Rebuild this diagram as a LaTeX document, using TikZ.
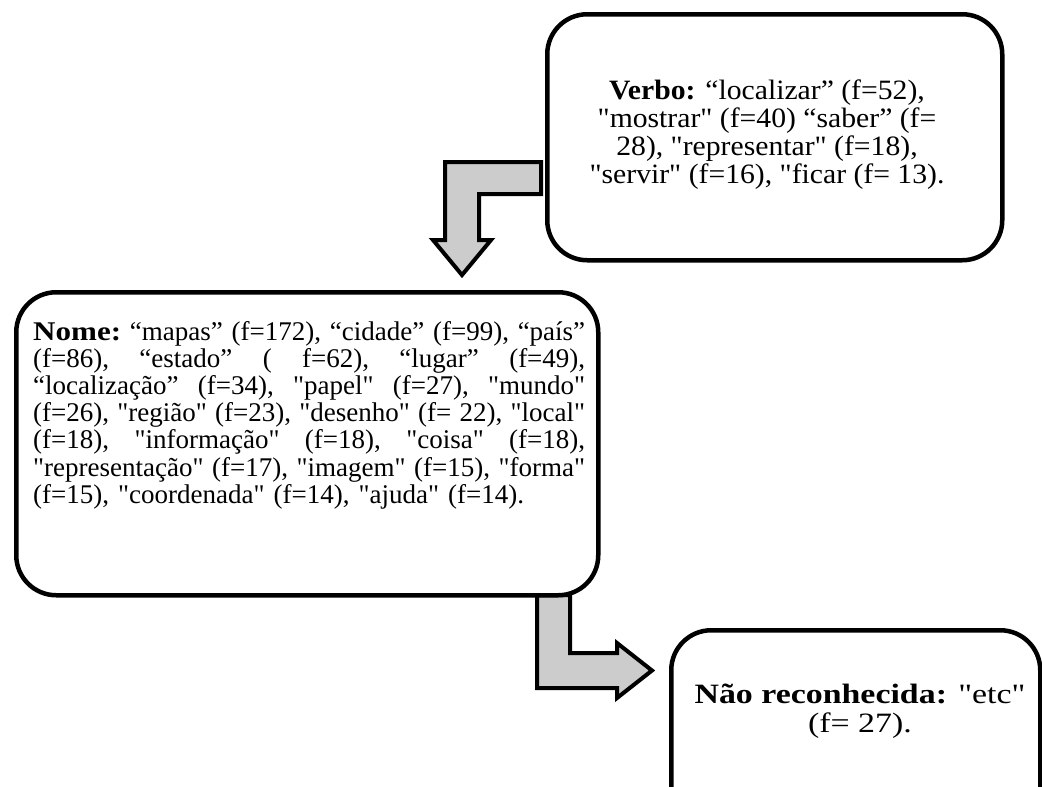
\documentclass[tikz,border=0pt]{standalone}
\usepackage{fontspec}
\setmainfont{Liberation Serif}[Ligatures=TeXOff, BoldFeatures={FakeStretch=1.15}]
\newfontfamily\verbofont{Liberation Serif}[Ligatures=TeXOff, FakeStretch=1.06]
\newfontfamily\naofont{Liberation Serif}[Ligatures=TeXOff, FakeStretch=1.21]
\definecolor{arrowgray}{RGB}{204,204,204}
\newcommand{\jline}[1]{\leavevmode\hbox to 552pt{#1}}
\begin{document}
\begin{tikzpicture}[x=1pt,y=-1pt,
  box/.style={draw=black, line width=4.5pt, rounded corners=40pt, fill=white, inner sep=0pt, anchor=north west},
  blockarrow/.style={draw=black, line width=4pt, line join=miter, fill=arrowgray},
  label/.style={inner sep=0pt}]
\useasboundingbox (0,0) rectangle (1042,787);
\clip (0,0) rectangle (1042,787);
% block arrows (drawn first, boxes cover their ends)
\draw[blockarrow] (541,162) -- (445,162) -- (445,240) -- (433,240) -- (462,275) -- (491,240) -- (479,240) -- (479,194) -- (541,194) -- cycle;
\draw[blockarrow] (537,595) -- (537,688) -- (617,688) -- (617,698) -- (652,670.5) -- (617,643) -- (617,653) -- (570,653) -- (570,595) -- cycle;
% boxes
\node[box, minimum width=455pt, minimum height=246pt] (verbo) at (545,12) {};
\node[box, minimum width=582pt, minimum height=303pt] (nome) at (14,290) {};
\node[box, minimum width=369pt, minimum height=200pt] (naorec) at (669,628) {};
% texts
\node[label, anchor=base, align=center, font=\verbofont\fontsize{28}{27.7}\selectfont] (verbotext) at (767,183) {\textbf{Verbo:} “localizar” (f=52),\\"mostrar" (f=40) “saber” (f=\\28), "representar" (f=18),\\"servir" (f=16), "ficar (f= 13).};
\node[label, anchor=base west, text width=552pt, font=\fontsize{27}{27.2}\selectfont] (nometext) at (33,340) {\noindent
\jline{\textbf{Nome:}\hfill“mapas”\hfill(f=172),\hfill“cidade”\hfill(f=99),\hfill“país”}\\
\jline{(f=86),\hfill“estado”\hfill(\hfill f=62),\hfill“lugar”\hfill(f=49),}\\
\jline{“localização”\hfill(f=34),\hfill"papel"\hfill(f=27),\hfill"mundo"}\\
\jline{(f=26),\hfill"região"\hfill(f=23),\hfill"desenho"\hfill(f=\hfill22),\hfill"local"}\\
\jline{(f=18),\hfill"informação"\hfill(f=18),\hfill"coisa"\hfill(f=18),}\\
\jline{"representação"\hfill(f=17),\hfill"imagem"\hfill(f=15),\hfill"forma"}\\
\leavevmode(f=15), "coordenada" (f=14), "ajuda" (f=14).};
\node[label, anchor=base, align=center, font=\naofont\fontsize{28}{29}\selectfont] (naotext) at (860,732) {\textbf{Não reconhecida:} "etc"\\(f= 27).};
\end{tikzpicture}
\end{document}
